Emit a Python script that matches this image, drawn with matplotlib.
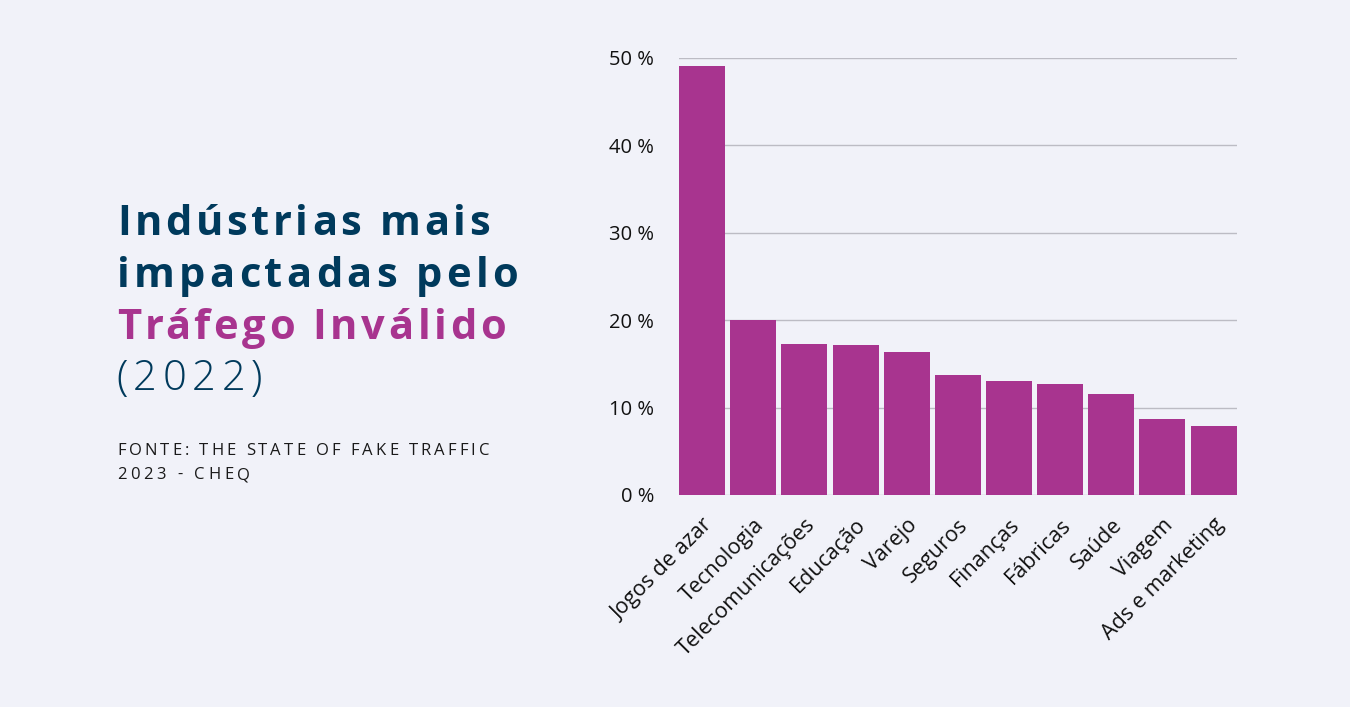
import matplotlib.pyplot as plt
from matplotlib.ticker import FuncFormatter

# ==============================
# DATA
# ==============================

industries = [
    "Jogos de azar", "Tecnologia", "Telecomunicações", "Educação", "Varejo",
    "Seguros", "Finanças", "Fábricas", "Saúde", "Viagem", "Ads e marketing",
]
share_pct = [49.1, 20.0, 17.3, 17.2, 16.4, 13.7, 13.0, 12.7, 11.6, 8.7, 7.9]
y_ticks = [0, 10, 20, 30, 40, 50]

title_lines = ["Indústrias mais", "impactadas pelo", "Tráfego Inválido", "(2022)"]
source_lines = ["FONTE: THE STATE OF FAKE TRAFFIC", "2023 - CHEQ"]

# ==============================
# STYLE
# ==============================

BG = "#f1f2f9"
BAR = "#a8348f"
NAVY = "#003a5c"
GRID = "#bcbcc4"
W, H = 1350, 707

fig = plt.figure(figsize=(13.5, 7.07), dpi=100, facecolor=BG)
ax = fig.add_axes([0.503, 0.300, 0.413, 0.618], facecolor=BG)

x = range(len(industries))
ax.bar(x, share_pct, width=0.9, color=BAR, zorder=3)

ax.set_xlim(-0.45, len(industries) - 0.55)
ax.set_ylim(0, 50)
ax.set_yticks(y_ticks)
ax.yaxis.set_major_formatter(FuncFormatter(lambda v, _: f"{v:.0f} %"))
ax.grid(axis="y", color=GRID, linewidth=1, zorder=0)
for s in ax.spines.values():
    s.set_visible(False)
ax.tick_params(length=0)
ax.tick_params(axis="y", pad=18)
ax.tick_params(axis="x", pad=14)
ax.set_xticks(list(x))
ax.set_xticklabels(industries, rotation=45, ha="right", rotation_mode="anchor",
                   fontsize=15.5, family="Open Sans", color="#111111")
for lab in ax.get_yticklabels():
    lab.set_fontsize(14.5)
    lab.set_family("Open Sans")
    lab.set_color("#111111")

# ==============================
# TRACKED TEXT (letter spacing)
# ==============================

renderer = fig.canvas.get_renderer()


def text_width(s, **kw):
    # width of s measured with a bar glyph appended, so trailing spaces count
    t = fig.text(0, 0, s + "|", **kw)
    w_full = t.get_window_extent(renderer).width
    t.remove()
    t = fig.text(0, 0, "|", **kw)
    w_bar = t.get_window_extent(renderer).width
    t.remove()
    return w_full - w_bar


def tracked_text(x_px, y_px, s, target_px, **kw):
    natural = text_width(s, **kw)
    gap = (target_px - natural) / max(len(s) - 1, 1)
    for i, ch in enumerate(s):
        if ch == " ":
            continue
        off = text_width(s[:i], **kw) + i * gap if i else 0
        fig.text((x_px + off) / W, 1 - y_px / H, ch, **kw)


tfont = dict(family="Open Sans", fontweight="bold", fontsize=30)
tracked_text(117, 235, title_lines[0], 373, color=NAVY, **tfont)
tracked_text(117, 287, title_lines[1], 401, color=NAVY, **tfont)
tracked_text(117, 339, title_lines[2], 389, color=BAR, **tfont)
tracked_text(116, 390, title_lines[3], 146, color=NAVY, family="Open Sans",
             fontweight="light", fontsize=30)

sfont = dict(family="Open Sans", fontsize=12, color="#1a1a1a")
tracked_text(117, 455, source_lines[0], 372, **sfont)
tracked_text(117, 479, source_lines[1], 133, **sfont)

fig.savefig("out.png", dpi=100, facecolor=BG)
